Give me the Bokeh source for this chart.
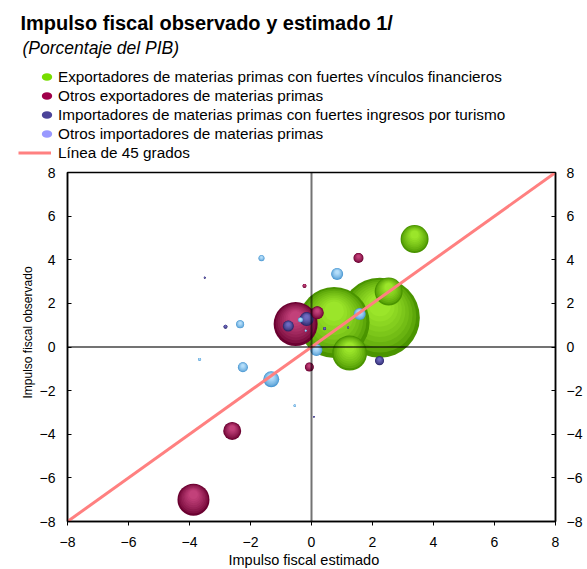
import numpy as np
from bokeh.plotting import figure
from bokeh.layouts import column, row
from bokeh.models import (ColumnDataSource, Span, Legend, LegendItem, Label, Title,
                          LinearAxis, FixedTicker, Range1d)
from bokeh.embed import file_html
from bokeh.resources import INLINE

FONT = "Liberation Sans"

# ---------------- texts ----------------
titulo = "Impulso fiscal observado y estimado 1/"
subtitulo = "(Porcentaje del PIB)"
grupos = [
    "Exportadores de materias primas con fuertes vínculos financieros",
    "Otros exportadores de materias primas",
    "Importadores de materias primas con fuertes ingresos por turismo",
    "Otros importadores de materias primas",
]
etiqueta_45 = "Línea de 45 grados"
eje_x = "Impulso fiscal estimado"
eje_y = "Impulso fiscal observado"
ticks = [-8, -6, -4, -2, 0, 2, 4, 6, 8]

# ---------------- data ----------------
# (estimado, observado, peso relativo)
g1_est = [0.74, 2.24, 2.53, 3.38, 1.25]
g1_obs = [1.12, 1.34, 2.54, 4.95, -0.28]
g1_peso = [126, 160, 19.6, 19.6, 30.6]

g2_est = [-0.52, 0.19, 1.54, -0.23, -0.07, -2.60, -3.87]
g2_obs = [1.05, 1.57, 4.08, 2.80, -0.92, -3.85, -7.00]
g2_peso = [48.4, 4.2, 2.5, 0.4, 2.0, 8.1, 25.6]

g3_est = [-0.76, -0.16, -3.50, -2.82, 2.23, 0.43, 1.20, 0.08]
g3_obs = [0.96, 1.28, 3.18, 0.93, -0.63, 0.84, 0.89, -3.20]
g3_peso = [3.0, 4.9, 0.1, 0.4, 2.0, 0.22, 0.1, 0.064]

g4_est = [-1.64, 0.84, -2.34, -0.36, 1.58, 0.16, -3.67, -2.25, -1.32, -0.55, -0.19]
g4_obs = [4.07, 3.35, 1.04, 1.24, 1.51, -0.14, -0.57, -0.93, -1.48, -2.69, 0.75]
g4_peso = [0.9, 3.6, 1.6, 0.62, 3.6, 3.6, 0.22, 2.5, 6.4, 0.14, 0.1]

# ---------------- styles ----------------
LEG_COLORS = ["#77dd00", "#a0004a", "#4b4499", "#9999ff"]
BUBBLE_EDGE = ["#4a9400", "#6a0030", "#2a2668", "#4b98d2"]
BUBBLE_LIGHT = ["#9be52a", "#c2417a", "#6f6bc0", "#b5defa"]
LINE_COLOR = "#ff8080"

W = 587
HEAD_H = 162
MAIN_H = 569 - HEAD_H
FL, FR, FT, FB = 67, 32, 10, 48
FRAME_H = MAIN_H - FT - FB


def hex2rgb(h):
    h = h.lstrip("#")
    return tuple(int(h[i:i + 2], 16) for i in (0, 2, 4))


def mix(c1, c2, t):
    a, b = hex2rgb(c1), hex2rgb(c2)
    return "#%02x%02x%02x" % tuple(int(round(a[i] + (b[i] - a[i]) * t)) for i in range(3))


series = [(g1_est, g1_obs, g1_peso), (g2_est, g2_obs, g2_peso),
          (g3_est, g3_obs, g3_peso), (g4_est, g4_obs, g4_peso)]

bubbles = []
for gi, (xs, ys, ws) in enumerate(series):
    for x, y, w in zip(xs, ys, ws):
        d = 2 * np.sqrt(10 * w)
        bubbles.append((d, x, y, gi))
bubbles.sort(key=lambda b: -b[0])

N = 9
units_per_px = (ticks[-1] - ticks[0]) / FRAME_H
rows = dict(x=[], y=[], size=[], color=[])
for d, x, y, gi in bubbles:
    for k in range(N):
        f = 1 - 0.72 * k / (N - 1)
        t = (k / (N - 1)) ** 0.7
        rows["x"].append(x)
        rows["y"].append(y + (1 - f) * d * 0.22 * units_per_px)
        rows["size"].append(d * f)
        rows["color"].append(mix(BUBBLE_EDGE[gi], BUBBLE_LIGHT[gi], t))

src = ColumnDataSource(rows)

# ================= header figure: title, subtitle, legend =================
head = figure(width=W, height=HEAD_H, output_backend="svg", toolbar_location=None,
              x_range=Range1d(0, 1), y_range=Range1d(0, 1),
              x_axis_location=None, y_axis_location=None,
              min_border=0, min_border_left=0, min_border_right=0,
              min_border_top=0, min_border_bottom=0,
              background_fill_color="white", border_fill_color="white")
head.grid.visible = False
head.outline_line_color = None

head.add_layout(Label(x=20, y=HEAD_H - 22.7, x_units="screen", y_units="screen",
                      text=titulo, text_font=FONT, text_font_size="20px",
                      text_font_style="bold", text_color="black", text_baseline="alphabetic"))
head.add_layout(Label(x=22, y=HEAD_H - 47, x_units="screen", y_units="screen",
                      text=subtitulo, text_font=FONT, text_font_size="17.5px",
                      text_font_style="italic", text_color="black", text_baseline="alphabetic"))

nan = float("nan")
leg_items = []
for g, c in zip(grupos, LEG_COLORS):
    r = head.ellipse(x=[nan], y=[nan], width=13.5, height=10, width_units="screen",
                     height_units="screen", fill_color=c, line_color=None)
    leg_items.append(LegendItem(label=g, renderers=[r]))
r_line = head.line(x=[nan, nan], y=[nan, nan], line_color=LINE_COLOR, line_width=3)

common = dict(orientation="vertical", glyph_height=19, label_height=19, spacing=0,
              padding=0, margin=0, border_line_color=None, background_fill_alpha=0,
              label_text_font=FONT, label_text_font_size="15.3px", label_text_color="black")
leg1 = Legend(items=leg_items, location=(40, HEAD_H - 143),
              glyph_width=13, label_standoff=5, **common)
leg2 = Legend(items=[LegendItem(label=etiqueta_45, renderers=[r_line])],
              location=(18, 0), glyph_width=33, label_standoff=7, **common)
head.add_layout(leg1)
head.add_layout(leg2)

# ================= main chart =================
p = figure(width=W, height=MAIN_H, output_backend="svg", toolbar_location=None,
           x_range=Range1d(ticks[0], ticks[-1]), y_range=Range1d(ticks[0], ticks[-1]),
           min_border_left=FL, min_border_right=FR, min_border_top=FT, min_border_bottom=FB,
           background_fill_color="white", border_fill_color="white")
p.grid.visible = False
p.outline_line_color = "black"
p.outline_line_width = 1.5

p.scatter(x="x", y="y", size="size", fill_color="color", line_color=None, source=src)

p.line(x=[ticks[0], ticks[-1]], y=[ticks[0], ticks[-1]], line_color=LINE_COLOR, line_width=3)

p.add_layout(Span(location=0, dimension="height", line_color="black", line_alpha=0.55, line_width=2))
p.add_layout(Span(location=0, dimension="width", line_color="black", line_alpha=0.55, line_width=2))


def style_axis(ax):
    ax.ticker = FixedTicker(ticks=ticks)
    ax.axis_line_color = "black"
    ax.axis_line_width = 1.5
    ax.major_tick_line_color = "black"
    ax.major_tick_line_width = 1
    ax.minor_tick_line_color = None
    ax.major_label_text_font = FONT
    ax.major_label_text_font_size = "14px"
    ax.major_label_text_color = "black"


xa = p.xaxis[0]
style_axis(xa)
xa.major_tick_out = 4
xa.major_tick_in = 0
xa.major_label_standoff = 11

ya = p.yaxis[0]
style_axis(ya)
ya.major_tick_out = 0
ya.major_tick_in = 4
ya.major_label_standoff = 12

yr = LinearAxis()
style_axis(yr)
yr.major_tick_out = 0
yr.major_tick_in = 4
yr.major_label_standoff = 11
p.add_layout(yr, "right")

# axis titles
p.add_layout(Title(text=eje_x, align="left", offset=161, standoff=0, text_font=FONT,
                   text_font_size="14.5px", text_font_style="normal", text_color="black"), "below")
p.add_layout(Title(text=eje_y, align="left", offset=123, standoff=4, text_font=FONT,
                   text_font_size="12px", text_font_style="normal", text_color="black"), "left")

layout = column(row(head), p, spacing=0)
open("out.html", "w").write(file_html(layout, INLINE))
